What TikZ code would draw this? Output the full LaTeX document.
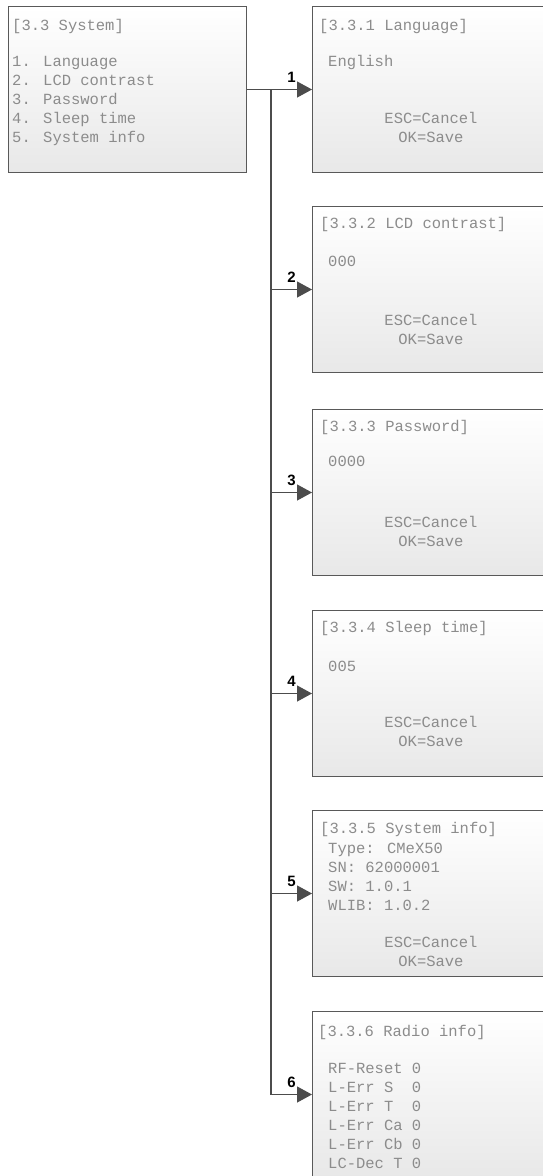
\documentclass[tikz,border=0pt]{standalone}
\usepackage{fontspec}
\newfontfamily\lcdfont{Liberation Mono}
\newfontfamily\numfont{Liberation Sans}
\usetikzlibrary{arrows.meta, positioning, calc}

\begin{document}
\begin{tikzpicture}[x=1pt, y=-1pt,
    screen/.style={rectangle, draw=black!65, line width=1pt, top color=white, bottom color=black!9,
        minimum width=238pt, minimum height=166pt, anchor=north west, inner sep=0pt},
    lcd/.style={font=\lcdfont\fontsize{15.5}{19}\selectfont, text=black!45, anchor=north west,
        inner sep=0pt, align=left},
    keys/.style={lcd, anchor=north, align=center},
    wire/.style={line width=1.2pt, draw=black!70},
    link/.style={wire, -{Triangle[length=15pt, width=16pt]}},
    num/.style={font=\numfont\bfseries\fontsize{15}{15}\selectfont, above=6pt, inner sep=0pt}]

    \useasboundingbox (0,0) rectangle (542,1176);

    % Main menu
    \node[screen] (sys) at (8,6) {};
    \node[lcd] (sys-title) at (12,19) {[3.3 System]};
    \node[lcd] (sys-menu) at (12,56) {1. Language\\2. LCD contrast\\3. Password\\4. Sleep time\\5. System info};

    % Sub menus
    \node[screen] (lang) at (312,6) {};
    \node[lcd] (lang-title) at (319,19) {[3.3.1 Language]};
    \node[lcd] (lang-val) at (328,55) {English};
    \node[keys] (lang-keys) at (431,112) {ESC=Cancel\\OK=Save};

    \node[screen] (lcd) at (312,206) {};
    \node[lcd] (lcd-title) at (320,217) {[3.3.2 LCD contrast]};
    \node[lcd] (lcd-val) at (328,256) {000};
    \node[keys] (lcd-keys) at (431,314) {ESC=Cancel\\OK=Save};

    \node[screen] (pass) at (312,409) {};
    \node[lcd] (pass-title) at (320,420) {[3.3.3 Password]};
    \node[lcd] (pass-val) at (328,456) {0000};
    \node[keys] (pass-keys) at (431,516) {ESC=Cancel\\OK=Save};

    \node[screen] (sleep) at (312,610) {};
    \node[lcd] (sleep-title) at (320,621) {[3.3.4 Sleep time]};
    \node[lcd] (sleep-val) at (328,661) {005};
    \node[keys] (sleep-keys) at (431,716) {ESC=Cancel\\OK=Save};

    \node[screen] (info) at (312,810) {};
    \node[lcd] (info-title) at (320,822) {[3.3.5 System info]};
    \node[lcd] (info-val) at (328,843) {Type: CMeX50\\SN: 62000001\\SW: 1.0.1\\WLIB: 1.0.2};
    \node[keys] (info-keys) at (431,936) {ESC=Cancel\\OK=Save};

    \node[screen] (radio) at (312,1011) {};
    \node[lcd] (radio-title) at (318,1025) {[3.3.6 Radio info]};
    \node[lcd] (radio-val) at (328,1063) {RF-Reset 0\\L-Err S~~0\\L-Err T~~0\\L-Err Ca 0\\L-Err Cb 0\\LC-Dec T 0};

    % Branches
    \coordinate (bus) at ($(sys.east)+(24,0)$);
    \draw[wire] (sys.east) -- (bus);
    \draw[wire] (bus) -- (bus |- radio.west);
    \foreach \n/\b in {1/lang, 2/lcd, 3/pass, 4/sleep, 5/info, 6/radio}
        \draw[link] (bus |- \b.west) -- node[num] {\n} (\b.west);

\end{tikzpicture}
\end{document}
